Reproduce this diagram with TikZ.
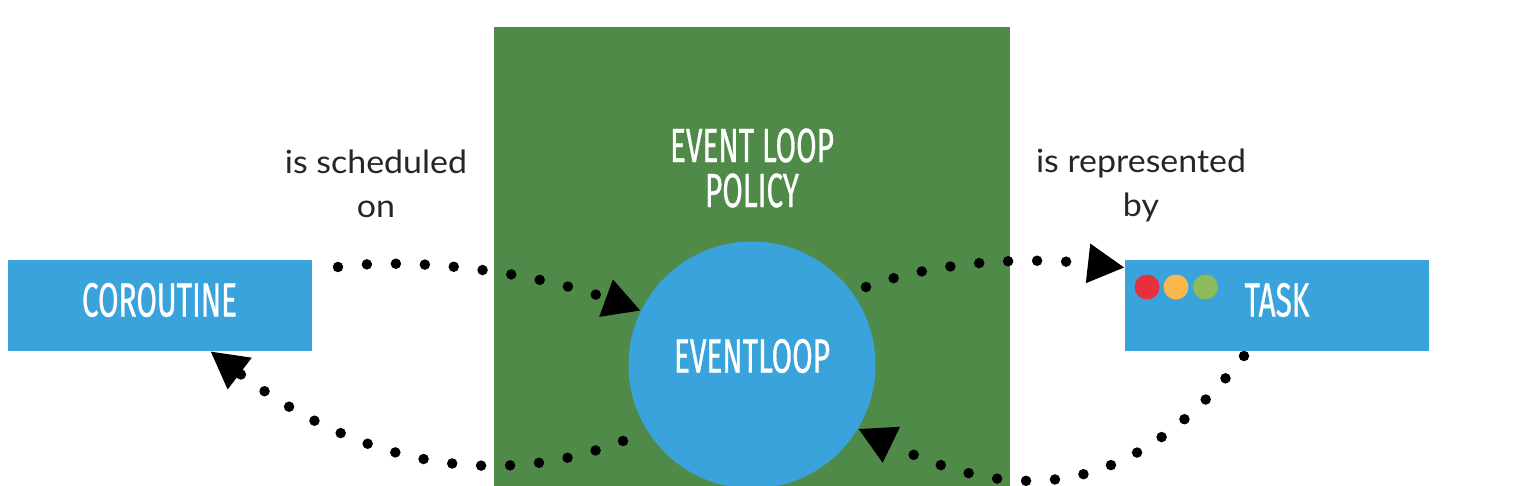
\documentclass[tikz,border=0pt]{standalone}
\usepackage{fontspec}
\usetikzlibrary{arrows.meta}
\setmainfont[FakeStretch=1.06]{Lato}
\newfontfamily\dinfont[FakeStretch=0.62,FakeBold=0.6]{Fira Sans}
\definecolor{loopgreen}{HTML}{4F8A49}
\definecolor{boxblue}{HTML}{3AA3DB}
\definecolor{dotred}{HTML}{E8303C}
\definecolor{dotyellow}{HTML}{FBB84A}
\definecolor{dotgreen}{HTML}{8BBB5A}
\tikzset{
  bluebox/.style={fill=boxblue,minimum width=304pt,minimum height=91pt,inner sep=0pt},
  headtext/.style={text=white,font=\dinfont\fontsize{48}{50}\selectfont,inner sep=0pt,anchor=center},
  labeltext/.style={text=black!85,font=\fontsize{32}{44}\selectfont,align=center,inner sep=0pt},
  flowdots/.style={line width=10.5pt,line cap=round,dash pattern=on 0pt off 29pt,
    -{Triangle[length=37pt,width=37pt]}},
  lamp/.style={circle,minimum size=25pt,inner sep=0pt}
}
\begin{document}
\begin{tikzpicture}[x=1pt,y=-1pt]
\useasboundingbox (0,0) rectangle (1516,486);
\clip (0,0) rectangle (1516,486);
\fill[loopgreen] (494,27) rectangle (1010,500);
\node[circle,fill=boxblue,minimum size=247pt,inner sep=0pt] (loop) at (752,365) {};
\node[headtext] (looplabel) at (752,356) {EVENTLOOP};
\node[headtext,align=center,font=\dinfont\fontsize{48}{45}\selectfont] (policy) at (752,168) {EVENT LOOP\\POLICY};
\node[bluebox] (coroutine) at (159.5,305.5) {};
\node[headtext] (coroutinelabel) at (159.5,300) {COROUTINE};
\node[bluebox] (task) at (1277,305.5) {};
\node[headtext] (tasklabel) at (1277,300) {TASK};
\node[lamp,fill=dotred] (lampa) at (1147,287) {};
\node[lamp,fill=dotyellow] (lampb) at (1176,287) {};
\node[lamp,fill=dotgreen] (lampc) at (1205.5,287) {};
\node[labeltext] (sched) at (376,183.5) {is scheduled\\on};
\node[labeltext] (repr) at (1141,185.5) {is represented\\by};
\coordinate (s1) at (338,267);
\coordinate (s2) at (623,441);
\coordinate (s3) at (866,287);
\coordinate (s4) at (1244,356);
\draw[flowdots] (s1) .. controls (420,256) and (540,274) .. (loop.154);
\draw[flowdots] (s2) .. controls (500,489) and (364,468) .. (coroutine.-42);
\draw[flowdots] (s3) .. controls (945,258) and (1040,258) .. (task.166.5);
\draw[flowdots] (s4) .. controls (1131,500) and (1016,505) .. (loop.-31.8);
\end{tikzpicture}
\end{document}
